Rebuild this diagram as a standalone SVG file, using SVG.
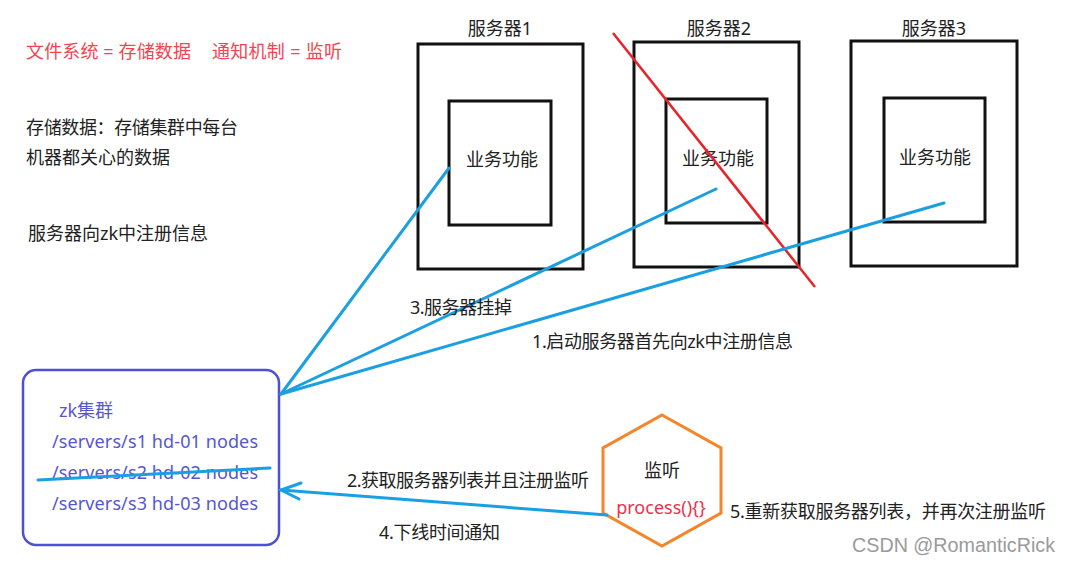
<svg xmlns="http://www.w3.org/2000/svg" width="1067" height="562" viewBox="0 0 1067 562">
<style>
text{font-family:"Noto Sans","Noto Sans CJK SC",sans-serif;font-size:18px;fill:#222}
.red{fill:#f5434f}
.zk{fill:#5656d2}
.box{fill:none;stroke:#111;stroke-width:3}
.blue{fill:none;stroke:#1aa0e2;stroke-width:3;stroke-linecap:round}
.mid{text-anchor:middle}
</style>
<rect width="1067" height="562" fill="#fff"/>
<g id="notes">
<text class="red" x="26" y="58" textLength="165" lengthAdjust="spacing">文件系统 = 存储数据</text>
<text class="red" x="212" y="58" textLength="130" lengthAdjust="spacing">通知机制 = 监听</text>
<text x="26" y="134" textLength="212" lengthAdjust="spacing">存储数据：存储集群中每台</text>
<text x="26" y="164">机器都关心的数据</text>
<text x="28" y="240">服务器向zk中注册信息</text>
</g>
<g id="server1">
<text class="mid" x="500" y="35">服务器1</text>
<rect class="box" x="418" y="44" width="165" height="225"/>
<rect class="box" x="449" y="101" width="102" height="124"/>
<text class="mid" x="502" y="166">业务功能</text>
</g>
<g id="server2">
<text class="mid" x="719" y="35">服务器2</text>
<rect class="box" x="634" y="42" width="165" height="225"/>
<rect class="box" x="666" y="99" width="101" height="124"/>
<text class="mid" x="718" y="165">业务功能</text>
</g>
<g id="server3">
<text class="mid" x="934" y="35">服务器3</text>
<rect class="box" x="851" y="41" width="166" height="225"/>
<rect class="box" x="884" y="98" width="101" height="124"/>
<text class="mid" x="935" y="164">业务功能</text>
</g>
<g id="zk-cluster">
<rect x="23" y="370" width="256" height="175" rx="13" fill="none" stroke="#4f4fd6" stroke-width="2.5"/>
<text class="zk" x="59" y="417">zk集群</text>
<text class="zk" x="52" y="448" textLength="206" lengthAdjust="spacing">/servers/s1 hd-01 nodes</text>
<text class="zk" x="52" y="479" textLength="206" lengthAdjust="spacing">/servers/s2 hd-02 nodes</text>
<text class="zk" x="52" y="510" textLength="206" lengthAdjust="spacing">/servers/s3 hd-03 nodes</text>
</g>
<g id="watcher">
<polygon points="662,415 721,448 721,513 662,546 603,513 603,448" fill="none" stroke="#f5852a" stroke-width="3"/>
<text class="mid" x="662" y="477">监听</text>
<text class="mid" x="661" y="514" style="fill:#f0304a">process(){}</text>
</g>
<g id="connectors">
<line x1="613" y1="33" x2="815" y2="287" stroke="#e8232a" stroke-width="2.5"/>
<line class="blue" x1="281" y1="394" x2="449" y2="168"/>
<line class="blue" x1="281" y1="394" x2="716" y2="189"/>
<line class="blue" x1="281" y1="394" x2="944" y2="203"/>
<line class="blue" x1="38" y1="480" x2="270" y2="468" stroke-width="2.5"/>
<line class="blue" x1="607" y1="515" x2="281" y2="490"/>
<polyline class="blue" points="301,483 281,490 299,499"/>
<text x="410" y="314" textLength="102" lengthAdjust="spacing">3.服务器挂掉</text>
<text x="532" y="348" textLength="261" lengthAdjust="spacing">1.启动服务器首先向zk中注册信息</text>
<text x="347" y="487" textLength="242" lengthAdjust="spacing">2.获取服务器列表并且注册监听</text>
<text x="379" y="539" textLength="121" lengthAdjust="spacing">4.下线时间通知</text>
<text x="730" y="518" textLength="316" lengthAdjust="spacing">5.重新获取服务器列表，并再次注册监听</text>
</g>
<text x="852" y="552" style="fill:#9a9a9a;font-family:'Liberation Sans',sans-serif;font-size:19.5px" textLength="203" lengthAdjust="spacingAndGlyphs">CSDN @RomanticRick</text>
</svg>
